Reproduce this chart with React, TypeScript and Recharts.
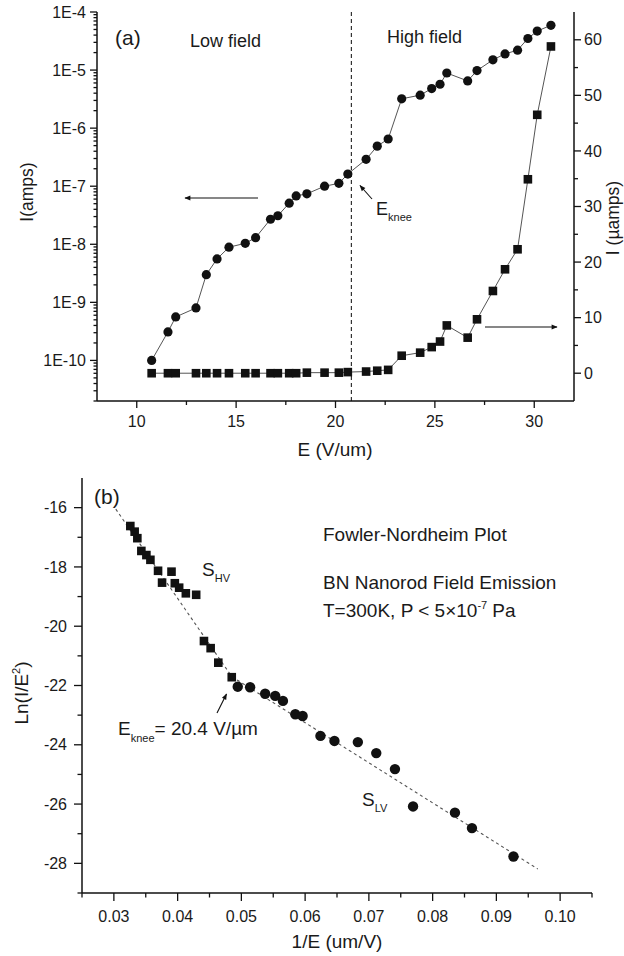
import React from 'react';
import { ScatterChart, Scatter, XAxis, YAxis, ReferenceLine } from 'recharts';

// (a) I-E curve: field values shared by both series
const fieldE = [10.75, 11.57, 11.96, 12.98, 13.5, 14.04, 14.64, 15.46, 15.98, 16.73, 17.1, 17.67, 18.02, 18.56, 19.45, 20.17, 20.62, 21.54, 22.1, 22.65, 23.33, 24.26, 24.84, 25.26, 25.6, 26.65, 27.12, 27.92, 28.53, 29.16, 29.68, 30.15, 30.84];
const currentAmps = [1.0e-10, 3.1e-10, 5.6e-10, 8.0e-10, 3.0e-9, 5.6e-9, 8.9e-9, 1.04e-8, 1.3e-8, 2.7e-8, 3.1e-8, 5.1e-8, 6.8e-8, 7.4e-8, 1.0e-7, 1.12e-7, 1.62e-7, 2.9e-7, 4.9e-7, 6.5e-7, 3.2e-6, 3.7e-6, 4.8e-6, 5.7e-6, 8.9e-6, 6.5e-6, 9.8e-6, 1.5e-5, 1.9e-5, 2.2e-5, 3.5e-5, 4.7e-5, 5.9e-5];
const currentMicroAmps = [0, 0, 0, 0, 0, 0, 0, 0, 0, 0, 0, 0, 0, 0.1, 0.1, 0.1, 0.2, 0.3, 0.45, 0.6, 3.15, 3.7, 4.7, 5.7, 8.6, 6.4, 9.7, 14.8, 18.7, 22.3, 34.9, 46.5, 58.8];
const kneeE = 20.8;

// (b) Fowler-Nordheim plot
const hvInvE = [0.03258, 0.03326, 0.03368, 0.03431, 0.0351, 0.03573, 0.03693, 0.03756, 0.03904, 0.03956, 0.04024, 0.04129, 0.04291, 0.04413, 0.04518, 0.04638, 0.04849];
const hvLn = [-16.62, -16.81, -17.03, -17.46, -17.6, -17.76, -18.13, -18.53, -18.16, -18.55, -18.7, -18.89, -18.94, -20.5, -20.74, -21.23, -21.72];
const lvInvE = [0.04943, 0.05137, 0.05373, 0.05531, 0.05652, 0.05846, 0.05961, 0.0624, 0.0646, 0.06827, 0.07116, 0.07409, 0.07693, 0.0835, 0.08617, 0.09268];
const lvLn = [-22.04, -22.06, -22.28, -22.35, -22.52, -22.97, -23.03, -23.7, -23.87, -23.91, -24.28, -24.82, -26.08, -26.29, -26.81, -27.77];
const fitInvE = [0.0303, 0.0485, 0.0965];
const fitLn = [-16.05, -21.7, -28.19];

// ticks
const eTicks = [10, 15, 20, 25, 30];
const eMinor = [12.5, 17.5, 22.5, 27.5];
const ampTicks = [1e-10, 1e-9, 1e-8, 1e-7, 1e-6, 1e-5, 1e-4];
const uampTicks = [0, 10, 20, 30, 40, 50, 60];
const uampMinor = [5, 15, 25, 35, 45, 55];
const invETicks = [0.03, 0.04, 0.05, 0.06, 0.07, 0.08, 0.09, 0.1];
const invEMinor = [0.025, 0.035, 0.045, 0.055, 0.065, 0.075, 0.085, 0.095, 0.105];
const lnTicks = [-16, -18, -20, -22, -24, -26, -28];
const lnMinor = [-17, -19, -21, -23, -25, -27, -29];

const ampDomain = [2e-11, 1e-4];
const ampMinor: number[] = [];
ampTicks.forEach((d) => {
  for (let k = 2; k <= 9; k++) {
    const v = (d / 10) * k;
    if (v >= ampDomain[0] && v < ampDomain[1]) ampMinor.push(v);
  }
});

const curveData = fieldE.map((e, i) => ({ e, amps: currentAmps[i], uamps: currentMicroAmps[i] }));
const hvData = hvInvE.map((x, i) => ({ x, y: hvLn[i] }));
const lvData = lvInvE.map((x, i) => ({ x, y: lvLn[i] }));
const fitData = fitInvE.map((x, i) => ({ x, y: fitLn[i] }));

const FONT = '"Liberation Sans", Arial, Helvetica, sans-serif';
const INK = '#1a1a1a';
const axisStroke = { stroke: '#111', strokeWidth: 1.5 };

type Side = 'left' | 'right' | 'bottom';

const makeTick = (side: Side, majors: number[], fmt: (v: number) => string, majorLen: number, minorLen: number, labelOff: number) =>
  (props: any) => {
    const { x, y, payload } = props;
    const v = Number(payload.value);
    const major = majors.some((m) => Math.abs(m - v) <= Math.abs(m) * 1e-6 + 1e-15);
    const len = major ? majorLen : minorLen;
    const txt = { fontSize: 16, fill: INK, fontFamily: FONT };
    if (side === 'left') {
      return (
        <g>
          <line x1={x - len} y1={y} x2={x} y2={y} stroke="#111" strokeWidth={1.3} />
          {major && <text x={x - labelOff} y={y + 5.6} textAnchor="end" {...txt}>{fmt(v)}</text>}
        </g>
      );
    }
    if (side === 'right') {
      return (
        <g>
          <line x1={x} y1={y} x2={x + len} y2={y} stroke="#111" strokeWidth={1.3} />
          {major && <text x={x + labelOff} y={y + 5.6} textAnchor="start" {...txt}>{fmt(v)}</text>}
        </g>
      );
    }
    return (
      <g>
        <line x1={x} y1={y} x2={x} y2={y + len} stroke="#111" strokeWidth={1.3} />
        {major && <text x={x} y={y + labelOff} textAnchor="middle" {...txt}>{fmt(v)}</text>}
      </g>
    );
  };

const circle = (r: number) => (p: any) => <circle cx={p.cx} cy={p.cy} r={r} fill="#111" />;
const square = (s: number) => (p: any) => <rect x={p.cx - s / 2} y={p.cy - s / 2} width={s} height={s} fill="#111" />;

const TopChart = () => (
  <ScatterChart width={624} height={470} margin={{ top: 12, right: 0, bottom: 0, left: 47 }}>
    <XAxis
      dataKey="e" type="number" domain={[8, 32]} allowDataOverflow
      ticks={[...eTicks, ...eMinor]} interval={0} height={69}
      tickSize={0} tickMargin={0} tickLine={false} axisLine={axisStroke}
      tick={makeTick('bottom', eTicks, (v) => String(v), 7, 4, 26)}
    />
    <XAxis xAxisId="top" orientation="top" type="number" domain={[8, 32]} height={0} tick={false} tickLine={false} axisLine={axisStroke} />
    <YAxis
      yAxisId="amps" dataKey="amps" type="number" scale="log" domain={ampDomain} allowDataOverflow
      ticks={[...ampTicks, ...ampMinor]} interval={0} width={50}
      tickSize={0} tickMargin={0} tickLine={false} axisLine={axisStroke}
      tick={makeTick('left', ampTicks, (v) => `1E${Math.round(Math.log10(v))}`, 7, 3.5, 11)}
    />
    <YAxis
      yAxisId="uamps" orientation="right" dataKey="uamps" type="number" domain={[-5, 65]} allowDataOverflow
      ticks={[...uampTicks, ...uampMinor]} interval={0} width={50}
      tickSize={0} tickMargin={0} tickLine={false} axisLine={axisStroke}
      tick={makeTick('right', uampTicks, (v) => String(v), 7, 4, 10)}
    />
    <ReferenceLine x={kneeE} yAxisId="amps" stroke="#333" strokeWidth={1.2} strokeDasharray="4 3" />
    <Scatter
      yAxisId="amps" data={curveData.map((d) => ({ e: d.e, amps: d.amps }))} dataKey="amps"
      line={{ stroke: '#555', strokeWidth: 1 }} lineType="joint" shape={circle(4.6)} isAnimationActive={false}
    />
    <Scatter
      yAxisId="uamps" data={curveData.map((d) => ({ e: d.e, uamps: d.uamps }))} dataKey="uamps"
      line={{ stroke: '#555', strokeWidth: 1 }} lineType="joint" shape={square(8.6)} isAnimationActive={false}
    />
  </ScatterChart>
);

const BottomChart = () => (
  <ScatterChart width={624} height={486} margin={{ top: 8, right: 32, bottom: 0, left: 32 }}>
    <XAxis
      dataKey="x" type="number" domain={[0.025, 0.105]} allowDataOverflow
      ticks={[...invETicks, ...invEMinor]} interval={0} height={63}
      tickSize={0} tickMargin={0} tickLine={false} axisLine={axisStroke}
      tick={makeTick('bottom', invETicks, (v) => v.toFixed(2), 8, 4.5, 29)}
    />
    <XAxis xAxisId="top" orientation="top" type="number" domain={[0.025, 0.105]} height={0} tick={false} tickLine={false} axisLine={axisStroke} />
    <YAxis
      dataKey="y" type="number" domain={[-29, -15]} allowDataOverflow
      ticks={[...lnTicks, ...lnMinor]} interval={0} width={50}
      tickSize={0} tickMargin={0} tickLine={false} axisLine={axisStroke}
      tick={makeTick('left', lnTicks, (v) => String(v), 8, 4.5, 15)}
    />
    <YAxis yAxisId="right" orientation="right" type="number" domain={[-29, -15]} width={0} tick={false} tickLine={false} axisLine={axisStroke} />
    <Scatter
      data={fitData} fill="none" line={{ stroke: '#555', strokeWidth: 1.1, strokeDasharray: '3 3' }}
      lineType="joint" shape={() => <g />} isAnimationActive={false}
    />
    <Scatter data={hvData} shape={square(8.6)} isAnimationActive={false} />
    <Scatter data={lvData} shape={circle(5.2)} isAnimationActive={false} />
  </ScatterChart>
);

const Annotations = () => {
  const t = { fontFamily: FONT, fill: INK };
  return (
    <svg width={624} height={956} style={{ position: 'absolute', left: 0, top: 0, pointerEvents: 'none' }}>
      <defs>
        <marker id="head" viewBox="0 0 10 10" refX="9" refY="5" markerWidth="10" markerHeight="6" orient="auto" markerUnits="userSpaceOnUse">
          <path d="M0,1 L10,5 L0,9 z" fill="#111" />
        </marker>
      </defs>
      {/* panel (a) */}
      <text x={115} y={45} fontSize={21} {...t}>(a)</text>
      <text x={190} y={47} fontSize={18} {...t}>Low field</text>
      <text x={387} y={43} fontSize={18} {...t}>High field</text>
      <line x1={258} y1={198} x2={185} y2={198} stroke="#111" strokeWidth={1.1} markerEnd="url(#head)" />
      <line x1={485} y1={327} x2={557} y2={327} stroke="#111" strokeWidth={1.1} markerEnd="url(#head)" />
      <line x1={372} y1={199} x2={360} y2={185.5} stroke="#111" strokeWidth={1.1} markerEnd="url(#head)" />
      <text x={376} y={215} fontSize={18} {...t}>E<tspan fontSize={11} dy={6}>knee</tspan></text>
      <text fontSize={17.5} textAnchor="middle" transform="rotate(-90 33 192)" {...t}>
        <tspan x={33} y={192}>I(amps)</tspan>
      </text>
      <text fontSize={17.5} textAnchor="middle" transform="rotate(-90 619 218)" {...t}>
        <tspan x={619} y={218}>I (µamps)</tspan>
      </text>
      <text x={335} y={456} fontSize={19} textAnchor="middle" {...t}>E (V/um)</text>

      {/* panel (b) */}
      <text x={94} y={504} fontSize={21} {...t}>(b)</text>
      <text x={202} y={576} fontSize={19} {...t}>S<tspan fontSize={11} dy={6}>HV</tspan></text>
      <text x={323} y={541} fontSize={19} {...t}>Fowler-Nordheim Plot</text>
      <text x={323} y={589} fontSize={19} {...t}>BN Nanorod Field Emission</text>
      <text x={323} y={617} fontSize={19} {...t}>
        T=300K, P &lt; 5×10<tspan fontSize={11} dy={-8}>-7</tspan><tspan dy={8} dx={5}>Pa</tspan>
      </text>
      <line x1={217} y1={713} x2={226.5} y2={694} stroke="#111" strokeWidth={1.1} markerEnd="url(#head)" />
      <text x={118} y={735} fontSize={19} {...t}>
        E<tspan fontSize={11} dy={7}>knee</tspan><tspan dy={-7}>= 20.4 V/µm</tspan>
      </text>
      <text x={362} y={806} fontSize={19} {...t}>S<tspan fontSize={11} dy={6}>LV</tspan></text>
      <text fontSize={19} textAnchor="middle" transform="rotate(-90 28 693)" {...t}>
        <tspan x={28} y={693}>Ln(I/E</tspan><tspan fontSize={11} dy={-8}>2</tspan><tspan dy={8}>)</tspan>
      </text>
      <text x={337} y={948} fontSize={19} textAnchor="middle" {...t}>1/E (um/V)</text>
    </svg>
  );
};

export default function App() {
  return (
    <div style={{ position: 'absolute', left: 0, top: 0, width: 624, height: 956, background: '#fff', overflow: 'hidden' }}>
      <div style={{ position: 'absolute', left: 0, top: 0 }}>
        <TopChart />
      </div>
      <div style={{ position: 'absolute', left: 0, top: 470 }}>
        <BottomChart />
      </div>
      <Annotations />
    </div>
  );
}
